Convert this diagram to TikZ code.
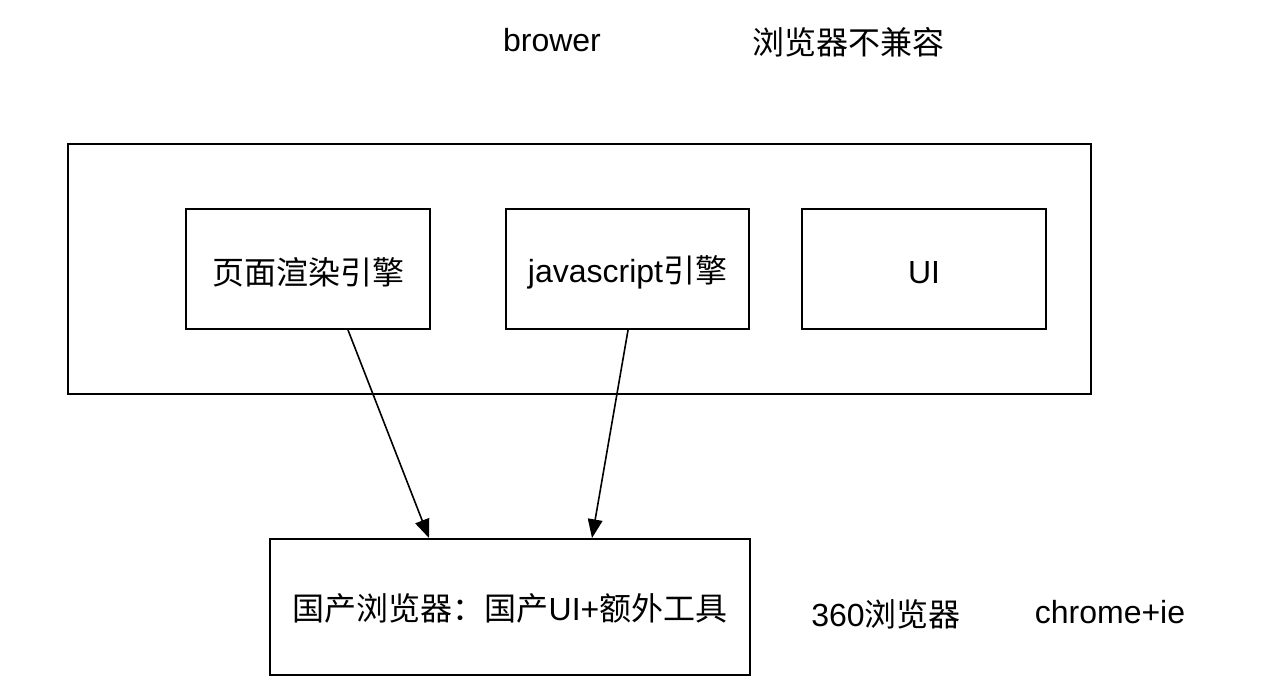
\documentclass[tikz,border=0pt]{standalone}
\usepackage{fontspec}
\setmainfont{Liberation Sans}
\newfontfamily\cjk{Noto Sans CJK SC}
\usetikzlibrary{arrows.meta}
\begin{document}
\begin{tikzpicture}[x=0.75pt,y=-0.75pt,
  box/.style={draw,line width=1.5pt,rectangle,inner sep=0pt},
  lbl/.style={inner sep=0pt,font=\fontsize{24pt}{28pt}\selectfont},
  arr/.style={line width=1.2pt,-{Triangle[length=14pt,width=11pt]}}]
\useasboundingbox (0,0) rectangle (1268,682);
\node[box,minimum width=767.25pt,minimum height=187.5pt] (outer) at (579.5,269) {};
\node[box,minimum width=183pt,minimum height=90pt,label={[lbl,yshift=-2.5pt]center:{\cjk 页面渲染引擎}}] (b1) at (308,269) {};
\node[box,minimum width=182.25pt,minimum height=90pt,label={[lbl,yshift=-2.5pt]center:javascript{\cjk 引擎}}] (b2) at (627.5,269) {};
\node[box,minimum width=183pt,minimum height=90pt,label={[lbl,yshift=-2.5pt]center:UI}] (b3) at (924,269) {};
\node[box,minimum width=360pt,minimum height=102pt,label={[lbl,yshift=-1pt]center:{\cjk 国产浏览器：国产}UI+{\cjk 额外工具}}] (bot) at (510,607) {};
\node[lbl] (t1) at (552,40) {brower};
\node[lbl] (t2) at (848,42) {\cjk 浏览器不兼容};
\node[lbl] (t3) at (886,614) {360{\cjk 浏览器}};
\node[lbl] (t4) at (1110,612) {chrome+ie};
\draw[arr] ([xshift=30pt]b1.south) -- ([xshift=-60.75pt]bot.north);
\draw[arr] ([xshift=0.4pt]b2.south) -- ([xshift=61.5pt]bot.north);
\end{tikzpicture}
\end{document}
